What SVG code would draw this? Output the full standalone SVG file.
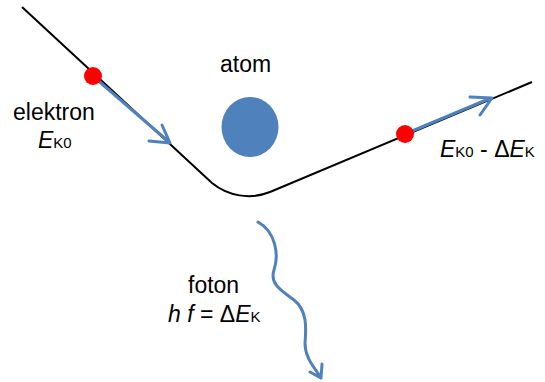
<svg xmlns="http://www.w3.org/2000/svg" width="545" height="382" viewBox="0 0 545 382">
<style>
text{font-family:"Liberation Sans",Arial,sans-serif;font-size:23px;fill:#000}
.i{font-style:italic}
.s{font-size:15px}
.blue{fill:none;stroke:#4f81bd;stroke-width:3;stroke-linecap:round;stroke-linejoin:round}
.dot{fill:#ff0000}
</style>
<rect width="545" height="382" fill="#fff"/>
<g id="connectors">
<path id="trajectory" d="M22,7 L212,183 C228,196 250,200 270,192 L532,82" fill="none" stroke="#000" stroke-width="2"/>
<path class="blue" d="M94,77 L169,142 M162,125 L170,143 L149,141"/>
<path class="blue" d="M405,134 L491,98 M470,97 L492,98 L480,115"/>
<path class="blue" d="M258,222 C276,232 279,255 274,270 C269,285 284,292 294,300 C308,311 306,330 305,343 C305,360 317,370 321,378 M310,372 L321,378 L322,364"/>
</g>
<g id="atom">
<ellipse cx="250" cy="127" rx="28.5" ry="30" fill="#4f81bd"/>
<text x="220" y="72">atom</text>
</g>
<g id="electron-in">
<circle class="dot" cx="93" cy="76" r="9"/>
<text x="13" y="120">elektron</text>
<text x="38" y="148"><tspan class="i">E</tspan><tspan class="s">K0</tspan></text>
</g>
<g id="electron-out">
<circle class="dot" cx="405" cy="134" r="9"/>
<text x="440" y="157"><tspan class="i">E</tspan><tspan class="s">K0</tspan> - Δ<tspan class="i">E</tspan><tspan class="s">K</tspan></text>
</g>
<g id="photon">
<text x="188" y="293">foton</text>
<text x="168" y="322"><tspan class="i">h f</tspan> = Δ<tspan class="i">E</tspan><tspan class="s">K</tspan></text>
</g>
</svg>
